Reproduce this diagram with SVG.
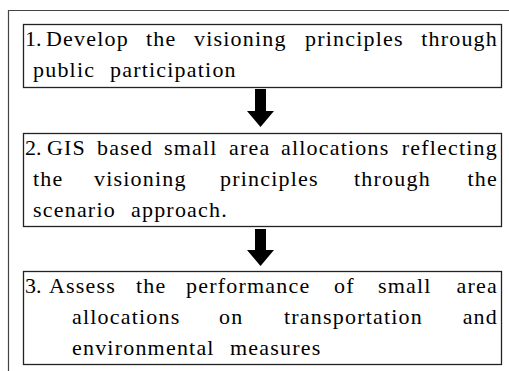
<svg xmlns="http://www.w3.org/2000/svg" width="509" height="371" viewBox="0 0 509 371">
<style>
.frame{fill:none;stroke:#444;stroke-width:1.2}
.box{fill:#fff;stroke:#222;stroke-width:1.3}
.t{font-family:"Liberation Serif","Times New Roman",serif;font-size:22px;letter-spacing:1.2px;fill:#000}
.e{text-anchor:end}
.arr{fill:#000}
</style>
<rect width="509" height="371" fill="#fff"/>
<path class="frame" d="M8.5,371 V10.5 H509"/>
<g id="node1">
<rect class="box" x="23.5" y="24.5" width="478" height="63"/>
<text class="t" y="46"><tspan x="25" letter-spacing="0">1.</tspan><tspan x="46">Develop</tspan><tspan x="146">the</tspan><tspan x="194">visioning</tspan><tspan x="305">principles</tspan></text>
<text class="t e" x="498" y="46">through</text>
<text class="t" y="77"><tspan x="33">public</tspan><tspan x="110">participation</tspan></text>
</g>
<g id="node2">
<rect class="box" x="23.5" y="133.5" width="478" height="93"/>
<text class="t" y="155"><tspan x="25" letter-spacing="0">2.</tspan><tspan x="47">GIS</tspan><tspan x="97">based</tspan><tspan x="164">small</tspan><tspan x="229">area</tspan><tspan x="281">allocations</tspan></text>
<text class="t e" x="498" y="155">reflecting</text>
<text class="t" y="186"><tspan x="33">the</tspan><tspan x="94">visioning</tspan><tspan x="220">principles</tspan><tspan x="354">through</tspan></text>
<text class="t e" x="498" y="186">the</text>
<text class="t" y="217"><tspan x="33">scenario</tspan><tspan x="131">approach.</tspan></text>
</g>
<g id="node3">
<rect class="box" x="23.5" y="271.5" width="478" height="93"/>
<text class="t" y="293"><tspan x="25" letter-spacing="0">3.</tspan><tspan x="49">Assess</tspan><tspan x="136">the</tspan><tspan x="186">performance</tspan><tspan x="334">of</tspan><tspan x="378">small</tspan></text>
<text class="t e" x="498" y="293">area</text>
<text class="t" y="324"><tspan x="72">allocations</tspan><tspan x="219">on</tspan><tspan x="284">transportation</tspan></text>
<text class="t e" x="498" y="324">and</text>
<text class="t" y="355"><tspan x="72">environmental</tspan><tspan x="230">measures</tspan></text>
</g>
<g id="connectors">
<polygon class="arr" points="255,89 266,89 266,111 274,111 260.5,127 247,111 255,111"/>
<polygon class="arr" points="255,229 266,229 266,250 274,250 260.5,266 247,250 255,250"/>
</g>
</svg>
